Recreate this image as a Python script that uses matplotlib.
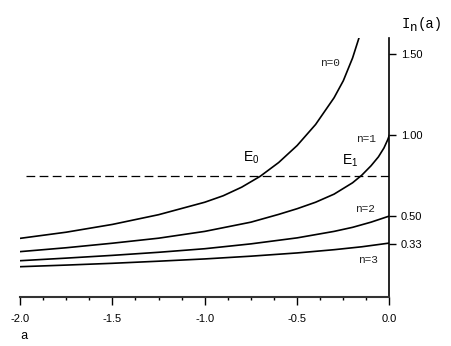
import matplotlib
matplotlib.use("Agg")
from matplotlib import pyplot as plt
from matplotlib.ticker import MultipleLocator
from matplotlib.transforms import offset_copy

# values
a_n0 = [-2.0, -1.75, -1.5, -1.25, -1.0, -0.9, -0.8, -0.7, -0.6, -0.5, -0.4, -0.3, -0.25, -0.2, -0.165]
I_n0 = [0.362, 0.40, 0.448, 0.508, 0.585, 0.625, 0.678, 0.745, 0.83, 0.935, 1.065, 1.23, 1.335, 1.475, 1.60]

a_n1 = [-2.0, -1.75, -1.5, -1.25, -1.0, -0.75, -0.6, -0.5, -0.4, -0.3, -0.2, -0.15, -0.1, -0.06, -0.03, -0.01, 0.0]
I_n1 = [0.280, 0.304, 0.332, 0.363, 0.405, 0.462, 0.51, 0.545, 0.585, 0.635, 0.705, 0.752, 0.81, 0.865, 0.92, 0.97, 1.00]

a_n2 = [-2.0, -1.75, -1.5, -1.25, -1.0, -0.75, -0.5, -0.3, -0.2, -0.1, 0.0]
I_n2 = [0.224, 0.24, 0.257, 0.276, 0.298, 0.328, 0.365, 0.405, 0.43, 0.462, 0.50]

a_n3 = [-2.0, -1.75, -1.5, -1.25, -1.0, -0.75, -0.5, -0.3, -0.15, 0.0]
I_n3 = [0.187, 0.197, 0.208, 0.221, 0.235, 0.252, 0.272, 0.292, 0.31, 0.333]

level = 0.75
level_start = -1.97

ytick_vals = [1.50, 1.00, 0.50, 0.33]
ytick_labels = ["1.50", "1.00", "0.50", "0.33"]
xtick_vals = [-2.0, -1.5, -1.0, -0.5, 0.0]
xtick_labels = ["-2.0", "-1.5", "-1.0", "-0.5", "0.0"]

MONO = "Liberation Mono"
SANS = "Liberation Sans"


def draw_curves(ax):
    for xs, ys in [(a_n0, I_n0), (a_n1, I_n1), (a_n2, I_n2), (a_n3, I_n3)]:
        ax.plot(xs, ys, color="black", lw=1.2, solid_joinstyle="round")
    ax.plot([level_start, 0.0], [level, level], color="black", lw=0.9, dashes=(7, 3.5))


def style_axes(ax):
    ax.set_xlim(-2.0, 0.0)
    ax.set_ylim(0.0, 1.6)
    ax.spines["left"].set_visible(False)
    ax.spines["top"].set_visible(False)
    ax.spines["right"].set_linewidth(1.2)
    ax.spines["bottom"].set_linewidth(1.5)
    ax.spines["bottom"].set_color("#333333")

    ax.yaxis.tick_right()
    ax.set_yticks(ytick_vals)
    ax.set_yticklabels(ytick_labels, fontfamily=SANS, fontsize=8)
    ax.tick_params(axis="y", direction="out", length=5, width=1, pad=3)

    ax.set_xticks(xtick_vals)
    ax.set_xticklabels(xtick_labels, fontfamily=SANS, fontsize=8)
    ax.xaxis.set_minor_locator(MultipleLocator(0.125))
    ax.tick_params(axis="x", which="major", direction="out", length=6, width=1, pad=6)
    ax.tick_params(axis="x", which="minor", direction="out", length=2.5, width=1)


def draw_labels(fig, ax):
    ax.text(-0.322, 1.444, "n=0", family=MONO, fontsize=8, ha="center", va="center", color="#222222")
    ax.text(-0.129, 0.973, "n=1", family=MONO, fontsize=8, ha="center", va="center", color="#222222")
    ax.text(-0.133, 0.541, "n=2", family=MONO, fontsize=8, ha="center", va="center", color="#222222")
    ax.text(-0.115, 0.228, "n=3", family=MONO, fontsize=8, ha="center", va="center", color="#222222")
    ax.text(-0.75, 0.86, r"E$_0$", family=SANS, fontsize=10, ha="center", va="center")
    ax.text(-0.214, 0.84, r"E$_1$", family=SANS, fontsize=10, ha="center", va="center")

    # I_n(a) built from pieces so the subscript stays nearly full size
    ax.text(0.068, 1.685, "I", family=MONO, fontsize=10, ha="left", va="center", clip_on=False)
    sub = offset_copy(ax.transData, fig=fig, x=5.5, y=-3, units="points")
    ax.text(0.068, 1.685, "n", family=MONO, fontsize=9, ha="left", va="center",
            transform=sub, clip_on=False)
    rest = offset_copy(ax.transData, fig=fig, x=11, y=0, units="points")
    ax.text(0.068, 1.685, "(a)", family=MONO, fontsize=10, ha="left", va="center",
            transform=rest, clip_on=False)

    ax.text(-1.978, -0.24, "a", family=MONO, fontsize=9, ha="center", va="center",
            clip_on=False)


def main():
    plt.rcParams["mathtext.fontset"] = "custom"
    plt.rcParams["mathtext.rm"] = SANS
    plt.rcParams["mathtext.it"] = SANS
    fig = plt.figure(figsize=(4.52, 3.46), dpi=100)
    ax = fig.add_axes([20 / 452, 49 / 346, 369.5 / 452, 259.2 / 346])
    draw_curves(ax)
    style_axes(ax)
    draw_labels(fig, ax)
    fig.savefig("out.png", dpi=100)


main()
